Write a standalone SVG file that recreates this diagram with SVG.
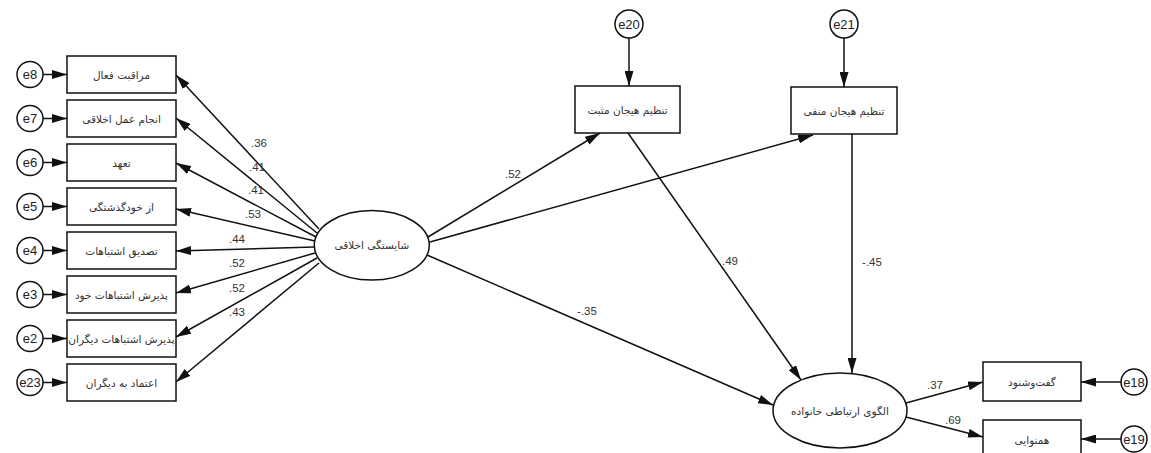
<svg xmlns="http://www.w3.org/2000/svg" width="1151" height="453" viewBox="0 0 1151 453">
<style>
.box{fill:#fff;stroke:#111;stroke-width:1.5}
.err{fill:#fff;stroke:#111;stroke-width:1.5}
.lat{fill:#fff;stroke:#111;stroke-width:1.5}
.fa{font-family:"DejaVu Sans",sans-serif;font-size:10.5px;fill:#333;text-anchor:middle;dominant-baseline:central}
.et{font-family:"Liberation Sans",Arial,sans-serif;font-size:13px;fill:#222;text-anchor:middle;dominant-baseline:central}
.num{font-family:"Liberation Sans",Arial,sans-serif;font-size:11.5px;fill:#333;text-anchor:middle;dominant-baseline:central}
.c{stroke:#111;stroke-width:1.5;fill:none;marker-end:url(#ah)}
</style>
<defs>
<marker id="ah" markerWidth="15" markerHeight="9" refX="15" refY="4.5" orient="auto" markerUnits="userSpaceOnUse">
<path d="M0,0 L15,4.5 L0,9 Z" fill="#111"/>
</marker>
</defs>
<rect width="1151" height="453" fill="#fff"/>
<g id="connectors">
<line class="c" x1="319" y1="229" x2="176" y2="75"/>
<line class="c" x1="317" y1="233" x2="176" y2="118"/>
<line class="c" x1="316" y1="237" x2="176" y2="163"/>
<line class="c" x1="315" y1="241" x2="176" y2="209"/>
<line class="c" x1="314" y1="247" x2="176" y2="251"/>
<line class="c" x1="315" y1="253" x2="176" y2="293"/>
<line class="c" x1="317" y1="258" x2="176" y2="337"/>
<line class="c" x1="319" y1="263" x2="176" y2="382"/>
<line class="c" x1="43" y1="74.5" x2="67" y2="74.5"/>
<line class="c" x1="43" y1="118.5" x2="67" y2="118.5"/>
<line class="c" x1="43" y1="162.5" x2="67" y2="162.5"/>
<line class="c" x1="43" y1="206.5" x2="67" y2="206.5"/>
<line class="c" x1="43" y1="250.5" x2="67" y2="250.5"/>
<line class="c" x1="43" y1="294.5" x2="67" y2="294.5"/>
<line class="c" x1="43" y1="338.5" x2="67" y2="338.5"/>
<line class="c" x1="43" y1="382.5" x2="67" y2="382.5"/>
<line class="c" x1="629" y1="38" x2="629" y2="86"/>
<line class="c" x1="844" y1="38" x2="844" y2="87"/>
<line class="c" x1="428" y1="237" x2="600" y2="133"/>
<line class="c" x1="430" y1="242" x2="813" y2="135"/>
<line class="c" x1="628" y1="133" x2="801" y2="380"/>
<line class="c" x1="852" y1="134" x2="852" y2="373"/>
<line class="c" x1="427" y1="255" x2="773" y2="405"/>
<line class="c" x1="906" y1="403" x2="983" y2="382"/>
<line class="c" x1="906" y1="417" x2="983" y2="437"/>
<line class="c" x1="1121" y1="382" x2="1081" y2="382"/>
<line class="c" x1="1121" y1="439" x2="1081" y2="439"/>
</g>
<g id="labels">
<text class="num" x="259" y="143">.36</text>
<text class="num" x="257" y="167">.41</text>
<text class="num" x="256" y="190">.41</text>
<text class="num" x="253" y="214">.53</text>
<text class="num" x="237" y="239">.44</text>
<text class="num" x="237" y="263">.52</text>
<text class="num" x="237" y="288">.52</text>
<text class="num" x="237" y="312">.43</text>
<text class="num" x="513" y="174">.52</text>
<text class="num" x="730" y="261">.49</text>
<text class="num" x="872" y="262">-.45</text>
<text class="num" x="587" y="311">-.35</text>
<text class="num" x="935" y="385">.37</text>
<text class="num" x="953" y="420">.69</text>
</g>
<g id="n-e8"><circle class="err" cx="30" cy="74.5" r="13"/><text class="et" x="30" y="74.5">e8</text></g>
<g id="n-e7"><circle class="err" cx="30" cy="118.5" r="13"/><text class="et" x="30" y="118.5">e7</text></g>
<g id="n-e6"><circle class="err" cx="30" cy="162.5" r="13"/><text class="et" x="30" y="162.5">e6</text></g>
<g id="n-e5"><circle class="err" cx="30" cy="206.5" r="13"/><text class="et" x="30" y="206.5">e5</text></g>
<g id="n-e4"><circle class="err" cx="30" cy="250.5" r="13"/><text class="et" x="30" y="250.5">e4</text></g>
<g id="n-e3"><circle class="err" cx="30" cy="294.5" r="13"/><text class="et" x="30" y="294.5">e3</text></g>
<g id="n-e2"><circle class="err" cx="30" cy="338.5" r="13"/><text class="et" x="30" y="338.5">e2</text></g>
<g id="n-e23"><circle class="err" cx="30" cy="382.5" r="13"/><text class="et" x="30" y="382.5">e23</text></g>
<g id="n-b1"><rect class="box" x="67" y="56" width="109" height="37"/><text class="fa" x="121.5" y="74.5">مراقبت فعال</text></g>
<g id="n-b2"><rect class="box" x="67" y="100" width="109" height="37"/><text class="fa" x="121.5" y="118.5">انجام عمل اخلاقی</text></g>
<g id="n-b3"><rect class="box" x="67" y="144" width="109" height="37"/><text class="fa" x="121.5" y="162.5">تعهد</text></g>
<g id="n-b4"><rect class="box" x="67" y="188" width="109" height="37"/><text class="fa" x="121.5" y="206.5">از خودگذشتگی</text></g>
<g id="n-b5"><rect class="box" x="67" y="232" width="109" height="37"/><text class="fa" x="121.5" y="250.5">تصدیق اشتباهات</text></g>
<g id="n-b6"><rect class="box" x="67" y="276" width="109" height="37"/><text class="fa" x="121.5" y="294.5">پذیرش اشتباهات خود</text></g>
<g id="n-b7"><rect class="box" x="67" y="320" width="109" height="37"/><text class="fa" x="121.5" y="338.5">پذیرش اشتباهات دیگران</text></g>
<g id="n-b8"><rect class="box" x="67" y="364" width="109" height="37"/><text class="fa" x="121.5" y="382.5">اعتماد به دیگران</text></g>
<g id="n-moral"><ellipse class="lat" cx="371.8" cy="245.3" rx="57.5" ry="34.7"/><text class="fa" x="371.8" y="245.3">شایستگی اخلاقی</text></g>
<g id="n-e20"><circle class="err" cx="629" cy="24" r="14"/><text class="et" x="629" y="24">e20</text></g>
<g id="n-e21"><circle class="err" cx="844" cy="24" r="14"/><text class="et" x="844" y="24">e21</text></g>
<g id="n-pos"><rect class="box" x="575" y="86" width="105" height="47"/><text class="fa" x="627.5" y="109.5">تنظیم هیجان مثبت</text></g>
<g id="n-neg"><rect class="box" x="791" y="87" width="106" height="47"/><text class="fa" x="844" y="110.5">تنظیم هیجان منفی</text></g>
<g id="n-family"><ellipse class="lat" cx="840" cy="410.5" rx="67" ry="37.5"/><text class="fa" x="840" y="410.5">الگوی ارتباطی خانواده</text></g>
<g id="n-conv"><rect class="box" x="983" y="362" width="98" height="39"/><text class="fa" x="1032" y="381.5">گفت‌وشنود</text></g>
<g id="n-conf"><rect class="box" x="983" y="420" width="98" height="40"/><text class="fa" x="1032" y="440">همنوایی</text></g>
<g id="n-e18"><circle class="err" cx="1134" cy="382" r="13"/><text class="et" x="1134" y="382">e18</text></g>
<g id="n-e19"><circle class="err" cx="1134" cy="439" r="13"/><text class="et" x="1134" y="439">e19</text></g>
</svg>
